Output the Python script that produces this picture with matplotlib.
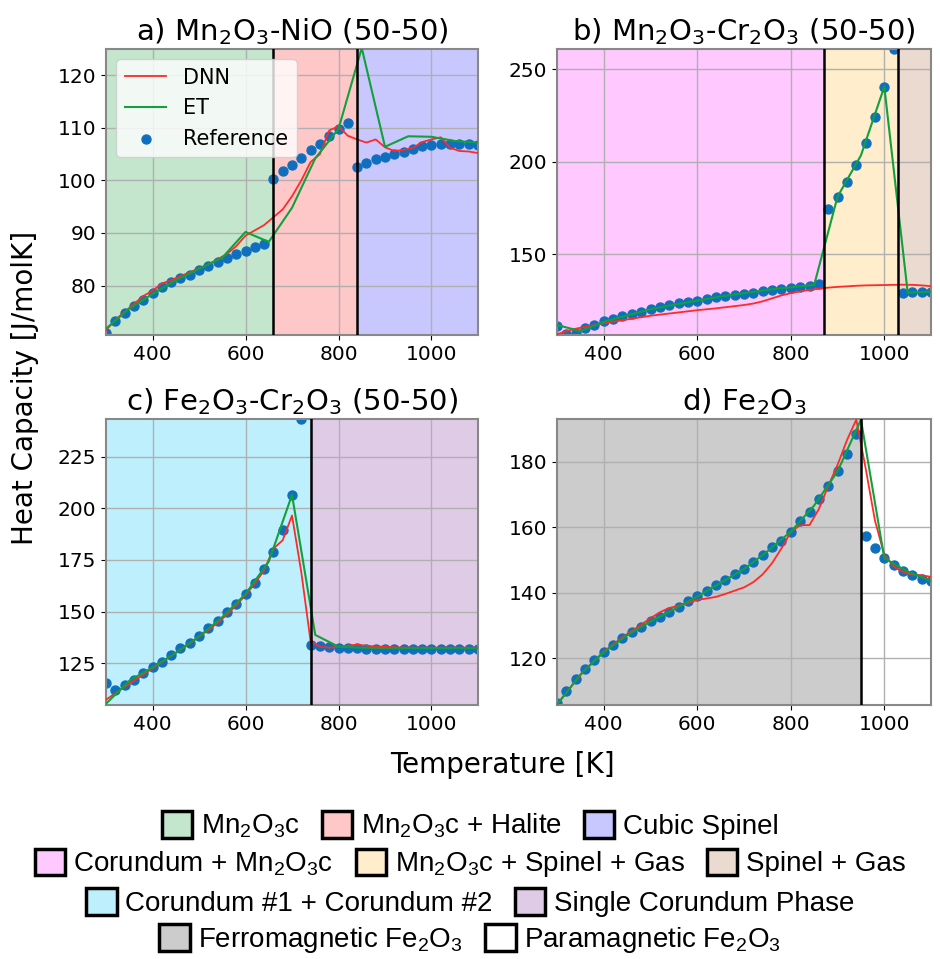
import numpy as np
import matplotlib
matplotlib.use("Agg")
import matplotlib.pyplot as plt
from matplotlib.patches import Patch

plt.rcParams['mathtext.default'] = 'regular'

####################################### DATA #######################################
T_ref = np.arange(300, 1101, 20)   # reference / DNN temperatures [K]
T_et = np.arange(300, 1101, 50)    # ET temperatures [K]

# a) Mn2O3-NiO
ref_a = [71.0, 73.2, 74.8, 76.2, 77.3, 78.5, 79.7, 80.6, 81.4, 82.1, 83.0, 83.8, 84.5, 85.3,
         86.0, 86.6, 87.4, 88.0, 100.3, 101.7, 103.0, 104.3, 105.7, 106.9, 108.4, 109.8, 111.0,
         102.5, 103.3, 104.0, 104.5, 105.0, 105.5, 106.0, 106.5, 106.8, 106.9, 106.9, 106.9, 106.9, 106.8]
dnn_a = [71.5, 73.5, 75.0, 76.5, 78.0, 79.0, 80.4, 81.0, 81.8, 82.5, 83.3, 84.0, 85.0, 86.0,
         87.5, 89.5, 90.5, 91.5, 93.0, 94.5, 97.0, 100.0, 103.5, 105.0, 109.5, 110.3, 108.5,
         107.8, 107.2, 107.8, 106.3, 105.6, 105.8, 106.2, 107.3, 107.8, 108.2, 106.2, 105.6, 105.5, 105.2]
et_a = [71.8, 75.6, 78.4, 81.0, 83.2, 85.3, 90.2, 88.3, 94.8, 104.2, 109.8, 125.2, 106.4, 108.4,
        108.3, 107.5, 107.2]

# b) Mn2O3-Cr2O3
ref_b = [111.5, 107.0, 107.5, 110.0, 112.0, 113.8, 115.2, 116.6, 117.8, 119.0, 120.5, 121.5, 122.5,
         123.5, 124.3, 125.0, 126.0, 126.8, 127.5, 128.0, 128.6, 129.3, 130.0, 130.5, 131.1, 131.6,
         132.3, 133.0, 134.0, 174.3, 181.2, 189.3, 198.3, 210.0, 224.0, 240.6, 261.0, 128.9, 129.5,
         129.8, 129.8]
dnn_b = [106.8, 108.5, 109.8, 110.8, 111.8, 112.8, 113.6, 114.4, 115.2, 116.0, 116.8, 117.4, 118.0,
         118.6, 119.2, 119.8, 120.3, 120.8, 121.4, 122.0, 122.6, 123.4, 124.6, 126.2, 127.8, 129.0,
         130.0, 130.8, 131.4, 132.0, 132.4, 132.7, 133.0, 133.2, 133.3, 133.4, 133.5, 133.6, 133.5,
         133.2, 132.8]
et_b = [111.8, 108.5, 113.5, 117.0, 120.3, 122.7, 125.0, 127.2, 129.0, 130.8, 132.2, 133.5, 181.2,
        203.5, 240.6, 129.3, 129.8]

# c) Fe2O3-Cr2O3
ref_c = [115.3, 112.1, 114.5, 117.0, 120.2, 123.1, 125.8, 129.0, 132.3, 135.0, 138.4, 141.9, 145.5,
         149.7, 153.7, 158.5, 164.0, 170.6, 178.7, 189.5, 206.5, 243.2, 133.9, 133.5, 132.7, 132.3,
         132.2, 132.2, 132.1, 132.1, 132.1, 132.1, 132.1, 132.1, 132.1, 132.1, 132.1, 132.1, 132.1,
         132.1, 132.1]
dnn_c = [107.3, 110.5, 113.5, 116.5, 119.5, 122.5, 125.5, 128.5, 131.5, 134.5, 137.8, 141.0, 144.5,
         148.5, 153.0, 158.0, 163.5, 170.0, 180.5, 184.5, 196.5, 169.0, 135.5, 133.0, 132.5, 133.0,
         133.5, 134.0, 133.5, 133.0, 133.0, 132.7, 132.6, 132.5, 132.5, 132.5, 132.5, 132.5, 132.5,
         132.5, 132.5]
et_c = [105.4, 116.5, 123.0, 130.0, 138.0, 147.3, 158.5, 174.2, 206.5, 138.7, 133.0, 132.5, 132.3,
        132.3, 132.3, 132.3, 132.3]

# d) Fe2O3
ref_d = [106.2, 110.0, 113.6, 116.6, 119.3, 121.8, 124.0, 126.1, 127.9, 129.6, 131.2, 132.7, 134.2,
         135.5, 137.5, 139.0, 140.5, 142.2, 143.9, 145.6, 147.2, 149.3, 151.5, 153.8, 155.8, 158.6,
         161.9, 164.7, 168.6, 172.4, 177.0, 182.2, 188.3, 157.4, 153.5, 150.5, 148.3, 146.6, 145.4,
         144.1, 143.4]
dnn_d = [105.8, 109.5, 113.0, 116.5, 119.3, 122.0, 124.2, 126.4, 128.3, 130.2, 132.2, 134.0, 135.3,
         136.0, 136.8, 137.8, 138.2, 138.7, 139.6, 140.6, 141.6, 143.2, 145.6, 149.0, 153.5, 158.5,
         160.6, 160.6, 165.5, 172.5, 179.0, 186.5, 192.8, 178.0, 162.0, 151.5, 148.0, 146.3, 145.5,
         145.3, 144.8]
et_d = [105.8, 115.0, 121.8, 127.0, 131.2, 134.9, 138.8, 143.0, 147.2, 152.6, 158.6, 166.6, 177.0,
        192.8, 150.5, 146.4, 143.6]

titles = ["a) Mn$_2$O$_3$-NiO (50-50)", "b) Mn$_2$O$_3$-Cr$_2$O$_3$ (50-50)",
          "c) Fe$_2$O$_3$-Cr$_2$O$_3$ (50-50)", "d) Fe$_2$O$_3$"]

# phase boundaries [K] and region colours / names
bounds_a = [300, 660, 840, 1100]
bounds_b = [300, 870, 1030, 1100]
bounds_c = [300, 740, 1100]
bounds_d = [300, 950, 1100]
colors_a = ['#c3e6cc', '#ffc8c8', '#c8c8ff']
colors_b = ['#ffc8ff', '#ffedcc', '#ebdad0']
colors_c = ['#bdf0fc', '#e0cbe6']
colors_d = ['#cccccc', '#ffffff']
names_a = ["Mn$_2$O$_3$c", "Mn$_2$O$_3$c + Halite", "Cubic Spinel"]
names_b = ["Corundum + Mn$_2$O$_3$c", "Mn$_2$O$_3$c + Spinel + Gas", "Spinel + Gas"]
names_c = ["Corundum #1 + Corundum #2", "Single Corundum Phase"]
names_d = ["Ferromagnetic Fe$_2$O$_3$", "Paramagnetic Fe$_2$O$_3$"]

ylims = [(70.6, 125), (106.4, 261), (104.8, 243.2), (105.7, 193)]
yticks = [[80, 90, 100, 110, 120], [150, 200, 250], [125, 150, 175, 200, 225], [120, 140, 160, 180]]

####################################### PLOT #######################################
fig = plt.figure(figsize=(9.4, 9.59), dpi=100)
pos = [[0.1128, 0.6507, 0.3957, 0.2982], [0.5926, 0.6507, 0.3979, 0.2982],
       [0.1128, 0.2649, 0.3957, 0.2982], [0.5926, 0.2649, 0.3979, 0.2982]]

refs = [ref_a, ref_b, ref_c, ref_d]
dnns = [dnn_a, dnn_b, dnn_c, dnn_d]
ets = [et_a, et_b, et_c, et_d]
bounds = [bounds_a, bounds_b, bounds_c, bounds_d]
colors = [colors_a, colors_b, colors_c, colors_d]
names = [names_a, names_b, names_c, names_d]

for i in range(4):
    ax = fig.add_axes(pos[i])
    b = bounds[i]
    for j in range(len(b) - 1):
        ax.axvspan(b[j], b[j + 1], color=colors[i][j], zorder=0, lw=0)
    for xb in b[1:-1]:
        ax.axvline(xb, color='black', lw=1.8, zorder=4)
    ax.plot(T_ref, dnns[i], color='#ff2a2a', lw=1.3, label='DNN', zorder=3)
    ax.plot(T_et, ets[i], color='#12a03a', lw=1.5, label='ET', zorder=3.5)
    ax.scatter(T_ref, refs[i], s=42, color='#0f6fbf', label='Reference', zorder=2.5)
    ax.set_xlim(300, 1100)
    ax.set_ylim(*ylims[i])
    ax.set_xticks([400, 600, 800, 1000])
    ax.set_yticks(yticks[i])
    ax.grid(color='#b0b0b0', lw=1.0)
    ax.tick_params(labelsize=14.5)
    for s in ax.spines.values():
        s.set_color('#888888')
        s.set_linewidth(1.5)
    ax.set_title(titles[i], fontsize=21)
    if i == 0:
        ax.legend(loc='upper left', fontsize=15)

fig.text(0.027, 0.595, "Heat Capacity [J/molK]", rotation=90, fontsize=20,
         ha='center', va='center')
fig.text(0.535, 0.202, "Temperature [K]", fontsize=20, ha='center', va='center')

# phase legend rows
row_y = [0.139, 0.099, 0.059, 0.020]
for r in range(4):
    handles = [Patch(facecolor=c, edgecolor='black', lw=2.5) for c in colors[r]]
    fig.legend(handles, names[r], loc='center', bbox_to_anchor=(0.5, row_y[r]),
               ncol=len(handles), frameon=False,
               prop={'family': ['Liberation Sans', 'DejaVu Sans'], 'size': 20},
               handlelength=1.1, handleheight=1.1, handletextpad=0.3, columnspacing=0.8,
               borderpad=0.1)

plt.savefig("out.png", dpi=100)
